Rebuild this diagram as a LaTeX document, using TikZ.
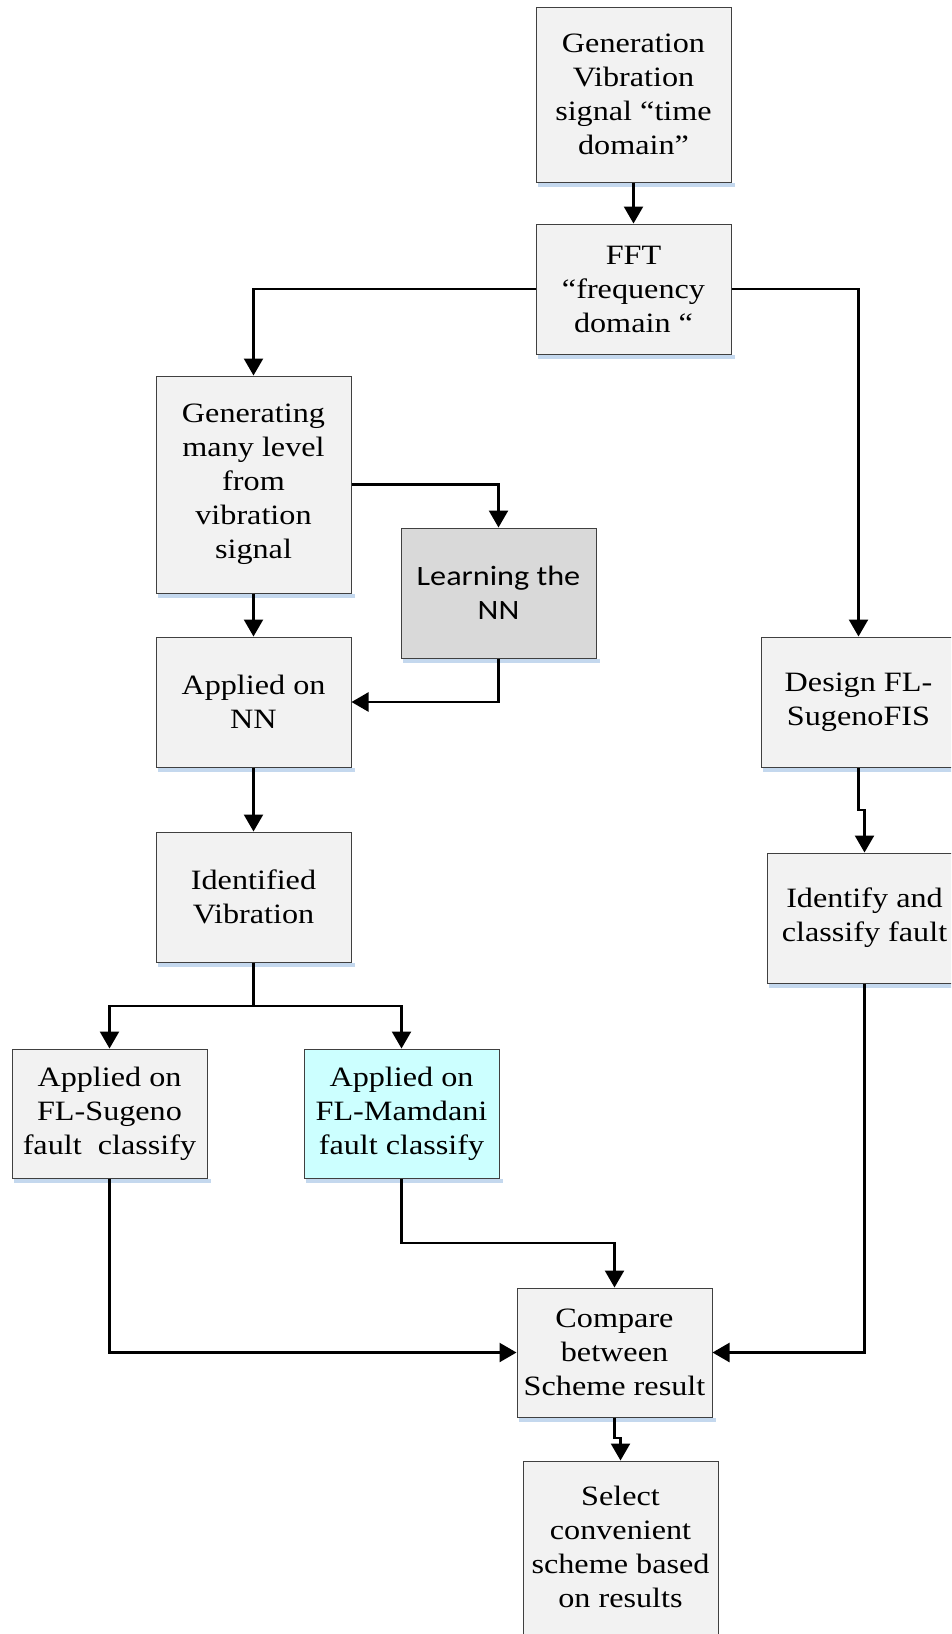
\documentclass[tikz,border=0pt]{standalone}
\usepackage{fontspec}
\setmainfont{Liberation Serif}[FakeStretch=1.15]
\newfontfamily\calib{Carlito}[FakeStretch=1.15]
\usetikzlibrary{arrows.meta,calc}
\definecolor{boxfill}{HTML}{F2F2F2}
\definecolor{boxline}{HTML}{404040}
\definecolor{nnfill}{HTML}{D9D9D9}
\definecolor{cyanfill}{HTML}{CCFFFF}
\definecolor{shadowc}{HTML}{C4D8EE}
\tikzset{
  box/.style={draw=boxline, line width=1pt, fill=boxfill, rectangle, align=center,
    minimum width=195pt, inner sep=0pt, font=\fontsize{28}{34}\selectfont},
  conn/.style={line width=2.4pt, -{Triangle[length=17pt,width=19pt]}},
  plain/.style={line width=2.4pt}
}
\begin{document}
\begin{tikzpicture}[x=1pt,y=-1pt]
\clip (0,0) rectangle (951,1634);
\fill[white] (0,0) rectangle (951,1634);
\node[box, minimum height=175pt] (gen) at (633.5,94.5) {Generation\\Vibration\\signal “time\\domain”};
\node[box, minimum height=130pt] (fft) at (633.5,289) {FFT\\“frequency\\domain “};
\node[box, minimum height=217pt] (genm) at (253.5,484.5) {Generating\\many level\\from\\vibration\\signal};
\node[box, minimum height=130pt, fill=nnfill, font=\calib\fontsize{28}{34}\selectfont] (learn) at (498.5,593) {Learning the\\NN};
\node[box, minimum height=130pt] (appnn) at (253.5,702) {Applied on\\NN};
\node[box, minimum height=130pt] (ident) at (253.5,897) {Identified\\Vibration};
\node[box, minimum height=129pt] (sug) at (109.5,1113.5) {Applied on\\FL-Sugeno\\fault\ \ classify};
\node[box, minimum height=129pt, fill=cyanfill] (mam) at (401.5,1113.5) {Applied on\\FL-Mamdani\\fault classify};
\node[box, minimum height=129pt] (cmp) at (614.5,1352.5) {Compare\\between\\Scheme result};
\node[box, minimum height=190pt] (sel) at (620.5,1556) {};
\node[align=center, font=\fontsize{28}{34}\selectfont, inner sep=0pt] (seltext) at (620.5,1547) {Select\\convenient\\scheme based\\on results};
\node[box, minimum height=130pt] (design) at (858.5,702) {Design FL-\\SugenoFIS};
\node[box, minimum height=130pt] (idf) at (864.5,918) {Identify and\\classify fault};
\foreach \n in {gen,fft,genm,learn,appnn,ident,sug,mam,cmp,design,idf}{
  \fill[shadowc] ($(\n.south west)+(2,0.5)$) rectangle ($(\n.south east)+(3,4)$);
}
% connectors
\draw[conn] (gen.south) -- (fft.north);
\draw[conn] (fft.west) -| (genm.north);
\draw[conn] (fft.east) -| (design.north);
\draw[conn] (genm.east) -| (learn.north);
\draw[conn] (genm.south) -- (appnn.north);
\draw[conn] (learn.south) |- (appnn.east);
\draw[conn] (appnn.south) -- (ident.north);
\coordinate (br) at (253.5,1006);
\draw[plain] (ident.south) -- (br);
\draw[conn] (br) -| (sug.north);
\draw[conn] (br) -| (mam.north);
\draw[conn] (sug.south) |- (cmp.west);
\coordinate (mj) at (401.5,1243);
\draw[conn] (mam.south) -- (mj) -| (cmp.north);
\coordinate (dj) at (858.5,810);
\draw[conn] (design.south) -- (dj) -| (idf.north);
\draw[conn] (idf.south) |- (cmp.east);
\coordinate (cj) at (614.5,1438);
\draw[conn] (cmp.south) -- (cj) -| (sel.north);
\end{tikzpicture}
\end{document}
